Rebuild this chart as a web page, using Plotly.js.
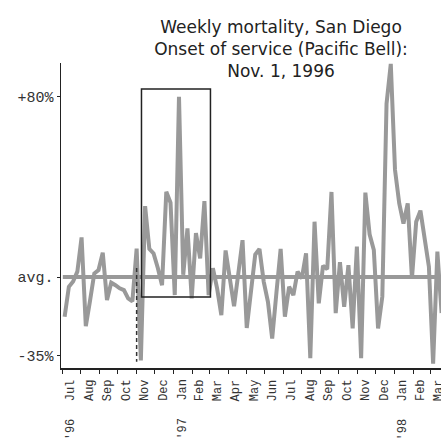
<!DOCTYPE html>
<html>
<head>
<meta charset="utf-8">
<script src="https://cdn.plot.ly/plotly-3.0.1.min.js"></script>
<style>html,body{margin:0;padding:0;background:#fff;}#chart{width:441px;height:440px;}</style>
</head>
<body>
<div id="chart"></div>
<script>
// Weekly mortality deviation from average (%), San Diego, weeks starting 1996-07-05
const firstWeek = '1996-07-05';
const mortality = [
  -17.6, -4.3, -2, 2.4, 17.6, -21.8, -10.5, 1.6, 3.1, 10.8,
  -10.2, -2.5, -3.6, -5, -5.8, -9.5, -10.8, 12.6, -37, 31.5,
  12.5, 10.5, 4, -3.6, 37.9, 33, -8, 80.1, 1, 21.6,
  -9.5, 19.5, 8.3, 33.7, -8, 3.9, -5, -16.9, 11.8, 0,
  -13, 1.5, 16.4, -22.6, -6, 10, 12.5, -2, -11, -27.3,
  -7, 12.5, -17.6, -4.3, -8, 2.4, -0.6, 10.5, -36, 24.6,
  -11.7, 5, 3.5, 37.8, -16, 6.6, -13.2, 5.3, -22.8, 13.5,
  -36, 37.5, 19, 12, -22.8, -8.7, 77, 94.7, 47.6, 32.7,
  23.8, 32.7, -0.6, 24.6, 29.5, 18, 4.6, -38.5, 11.3, -16
];
const monthStarts = ['1996-07-01','1996-08-01','1996-09-01','1996-10-01','1996-11-01','1996-12-01',
  '1997-01-01','1997-02-01','1997-03-01','1997-04-01','1997-05-01','1997-06-01','1997-07-01',
  '1997-08-01','1997-09-01','1997-10-01','1997-11-01','1997-12-01','1998-01-01','1998-02-01','1998-03-01'];
const monthMids = ['1996-07-16','1996-08-16','1996-09-15','1996-10-16','1996-11-15','1996-12-16',
  '1997-01-16','1997-02-14','1997-03-16','1997-04-15','1997-05-16','1997-06-15','1997-07-16',
  '1997-08-16','1997-09-15','1997-10-16','1997-11-15','1997-12-16','1998-01-16','1998-02-14','1998-03-16'];
const monthLabels = ['Jul','Aug','Sep','Oct','Nov','Dec','Jan','Feb','Mar','Apr','May','Jun',
  'Jul','Aug','Sep','Oct','Nov','Dec','Jan','Feb','Mar'];
const yearLabels = ["'96","'97","'98"];
const yearPositions = ['1996-07-16','1997-01-16','1998-01-16'];
const yTickVals = [80, 0, -35];
const yTickText = ['+80%', 'avg.', '-35%'];
const serviceOnset = '1996-11-01';
const highlightStart = '1996-11-09', highlightEnd = '1997-03-03';
const highlightLow = -8.9, highlightHigh = 83.6;
const onsetLineTop = 4, onsetLineBottom = -37.6;
const avgLevel = 0;
const xStart = '1996-06-29', xEnd = '1998-03-19';

const startMs = Date.parse(firstWeek + 'T00:00:00Z');
const weeks = mortality.map((_, i) => new Date(startMs + i * 7 * 86400000).toISOString().slice(0, 10));

const gray = '#999999';
const traces = [
  {x: ['1996-07-02', xEnd], y: [avgLevel, avgLevel], mode: 'lines', line: {color: gray, width: 4}, hoverinfo: 'skip'},
  {x: weeks, y: mortality, mode: 'lines', line: {color: gray, width: 4}}
];

const annotations = [];
monthLabels.forEach((m, i) => annotations.push({
  x: monthMids[i], y: 0, xref: 'x', yref: 'paper', text: m, showarrow: false, textangle: -90,
  xanchor: 'center', yanchor: 'top', yshift: -9,
  font: {family: 'Liberation Mono, monospace', size: 12, color: '#333'}
}));
yearLabels.forEach((t, i) => annotations.push({
  x: yearPositions[i], y: 0, xref: 'x', yref: 'paper', text: t, showarrow: false, textangle: -90,
  xanchor: 'center', yanchor: 'top', yshift: -48,
  font: {family: 'Liberation Mono, monospace', size: 12, color: '#333'}
}));

const layout = {
  width: 441, height: 440,
  margin: {l: 61, r: 0, t: 63, b: 72},
  paper_bgcolor: '#fff', plot_bgcolor: '#fff',
  showlegend: false,
  title: {
    text: 'Weekly mortality, San Diego<br>Onset of service (Pacific Bell):<br>Nov. 1, 1996',
    font: {family: 'DejaVu Sans, sans-serif', size: 17, color: '#222'},
    x: 281 / 441, xref: 'container', xanchor: 'center',
    y: 1 - 33 / 440, yref: 'container', yanchor: 'top'
  },
  xaxis: {
    type: 'date', range: [xStart, xEnd],
    tickvals: monthStarts, showticklabels: false,
    ticks: 'outside', ticklen: 4, tickwidth: 1, tickcolor: '#222',
    showline: true, linecolor: '#222', linewidth: 1.5,
    showgrid: false, zeroline: false, fixedrange: true
  },
  yaxis: {
    range: [-40.4, 95.1],
    tickvals: yTickVals, ticktext: yTickText,
    ticks: 'outside', ticklen: 3, tickwidth: 1, tickcolor: '#222',
    tickfont: {family: 'Liberation Mono, monospace', size: 15, color: '#333'},
    showline: true, linecolor: '#222', linewidth: 1.5,
    showgrid: false, zeroline: false, automargin: false, fixedrange: true
  },
  shapes: [
    {type: 'rect', xref: 'x', yref: 'y', x0: highlightStart, x1: highlightEnd, y0: highlightLow, y1: highlightHigh,
     line: {color: '#222', width: 1.5}, fillcolor: 'rgba(0,0,0,0)'},
    {type: 'line', xref: 'x', yref: 'y', x0: serviceOnset, x1: serviceOnset, y0: onsetLineTop, y1: onsetLineBottom,
     line: {color: '#333', width: 1.5, dash: '4px,3px'}}
  ],
  annotations: annotations
};

Plotly.newPlot('chart', traces, layout, {displayModeBar: false, staticPlot: true});
</script>
</body>
</html>
